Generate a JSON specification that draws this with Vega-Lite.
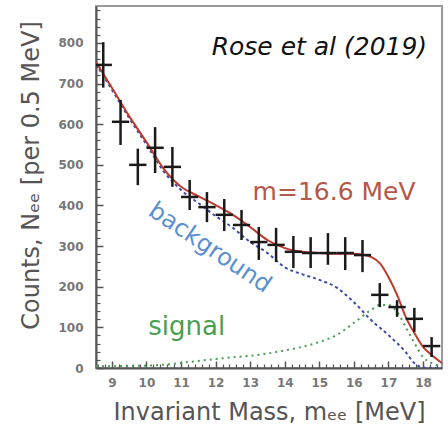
{
  "$schema": "https://vega.github.io/schema/vega-lite/v6.json",
  "width": 346,
  "height": 362,
  "autosize": "none",
  "padding": {"left": 96, "top": 6, "right": 6, "bottom": 74},
  "background": "white",
  "config": {
    "view": {"stroke": "#9a9a9a", "strokeWidth": 2},
    "axis": {
      "grid": false,
      "domainColor": "#555",
      "domainWidth": 2,
      "tickColor": "#555",
      "tickWidth": 1.5,
      "labelFont": "DejaVu Sans",
      "labelFontWeight": "bold",
      "labelFontSize": 12,
      "labelColor": "#777",
      "labelOverlap": false,
      "labelFlush": false,
      "titleFont": "DejaVu Sans",
      "titleFontWeight": "normal",
      "titleFontSize": 24,
      "titleColor": "#555"
    }
  },
  "resolve": {"axis": {"x": "independent", "y": "independent"}},
  "datasets": {
    "points": [
      {"mass": 8.75, "count": 746, "lo": 690, "hi": 802, "mlo": 8.5, "mhi": 9.0},
      {"mass": 9.25, "count": 606, "lo": 549, "hi": 660, "mlo": 9.0, "mhi": 9.5},
      {"mass": 9.75, "count": 500, "lo": 450, "hi": 540, "mlo": 9.5, "mhi": 10.0},
      {"mass": 10.25, "count": 542, "lo": 480, "hi": 593, "mlo": 10.0, "mhi": 10.5},
      {"mass": 10.75, "count": 495, "lo": 446, "hi": 544, "mlo": 10.5, "mhi": 11.0},
      {"mass": 11.25, "count": 421, "lo": 389, "hi": 463, "mlo": 11.0, "mhi": 11.5},
      {"mass": 11.75, "count": 396, "lo": 359, "hi": 433, "mlo": 11.5, "mhi": 12.0},
      {"mass": 12.25, "count": 377, "lo": 337, "hi": 416, "mlo": 12.0, "mhi": 12.5},
      {"mass": 12.75, "count": 352, "lo": 315, "hi": 389, "mlo": 12.5, "mhi": 13.0},
      {"mass": 13.25, "count": 310, "lo": 266, "hi": 347, "mlo": 13.0, "mhi": 13.5},
      {"mass": 13.75, "count": 303, "lo": 261, "hi": 345, "mlo": 13.5, "mhi": 14.0},
      {"mass": 14.25, "count": 286, "lo": 246, "hi": 325, "mlo": 14.0, "mhi": 14.5},
      {"mass": 14.75, "count": 283, "lo": 246, "hi": 322, "mlo": 14.5, "mhi": 15.0},
      {"mass": 15.25, "count": 283, "lo": 254, "hi": 332, "mlo": 15.0, "mhi": 15.5},
      {"mass": 15.75, "count": 283, "lo": 241, "hi": 322, "mlo": 15.5, "mhi": 16.0},
      {"mass": 16.25, "count": 278, "lo": 236, "hi": 315, "mlo": 16.0, "mhi": 16.5},
      {"mass": 16.75, "count": 180, "lo": 150, "hi": 209, "mlo": 16.5, "mhi": 17.0},
      {"mass": 17.25, "count": 150, "lo": 126, "hi": 167, "mlo": 17.0, "mhi": 17.5},
      {"mass": 17.75, "count": 121, "lo": 89, "hi": 148, "mlo": 17.5, "mhi": 18.0},
      {"mass": 18.25, "count": 54, "lo": 27, "hi": 76, "mlo": 18.0, "mhi": 18.5}
    ],
    "total": [
      {"mass": 8.54, "count": 753}, {"mass": 9.0, "count": 690}, {"mass": 9.5, "count": 620},
      {"mass": 10.0, "count": 556}, {"mass": 10.5, "count": 490}, {"mass": 11.0, "count": 446},
      {"mass": 11.5, "count": 423}, {"mass": 12.0, "count": 401}, {"mass": 12.5, "count": 377},
      {"mass": 13.0, "count": 347}, {"mass": 13.5, "count": 315}, {"mass": 14.0, "count": 295},
      {"mass": 14.5, "count": 286}, {"mass": 15.0, "count": 283}, {"mass": 15.5, "count": 281},
      {"mass": 16.0, "count": 281}, {"mass": 16.25, "count": 279}, {"mass": 16.5, "count": 273},
      {"mass": 16.75, "count": 258}, {"mass": 17.0, "count": 224}, {"mass": 17.25, "count": 180},
      {"mass": 17.5, "count": 126}, {"mass": 17.75, "count": 86}, {"mass": 18.0, "count": 52},
      {"mass": 18.25, "count": 32}, {"mass": 18.55, "count": 12}
    ],
    "background": [
      {"mass": 8.54, "count": 748}, {"mass": 9.0, "count": 685}, {"mass": 9.5, "count": 615},
      {"mass": 10.0, "count": 550}, {"mass": 10.5, "count": 484}, {"mass": 11.0, "count": 438},
      {"mass": 11.5, "count": 406}, {"mass": 12.0, "count": 374}, {"mass": 12.5, "count": 345},
      {"mass": 13.0, "count": 310}, {"mass": 13.5, "count": 283}, {"mass": 14.0, "count": 248},
      {"mass": 14.5, "count": 231}, {"mass": 15.0, "count": 217}, {"mass": 15.5, "count": 198},
      {"mass": 16.0, "count": 162}, {"mass": 16.5, "count": 118}, {"mass": 17.0, "count": 81},
      {"mass": 17.5, "count": 39}, {"mass": 17.75, "count": 12}, {"mass": 18.0, "count": 1},
      {"mass": 18.2, "count": 0}, {"mass": 18.55, "count": 0}
    ],
    "signal": [
      {"mass": 8.54, "count": 4}, {"mass": 9.5, "count": 5}, {"mass": 10.5, "count": 8},
      {"mass": 11.25, "count": 15}, {"mass": 12.2, "count": 24}, {"mass": 13.2, "count": 32},
      {"mass": 14.05, "count": 44}, {"mass": 14.5, "count": 52}, {"mass": 15.0, "count": 64},
      {"mass": 15.5, "count": 81}, {"mass": 16.0, "count": 111}, {"mass": 16.5, "count": 143},
      {"mass": 16.75, "count": 155}, {"mass": 17.0, "count": 155}, {"mass": 17.25, "count": 138},
      {"mass": 17.5, "count": 101}, {"mass": 17.75, "count": 62}, {"mass": 18.0, "count": 27},
      {"mass": 18.25, "count": 12}, {"mass": 18.55, "count": 3}
    ]
  },
  "layer": [
    {
      "data": {"name": "background"},
      "mark": {"type": "line", "color": "#3d4aa6", "strokeWidth": 2, "strokeDash": [3, 3], "interpolate": "monotone", "clip": true},
      "encoding": {
        "x": {
          "field": "mass", "type": "quantitative",
          "scale": {"domain": [8.54, 18.55], "nice": false, "zero": false},
          "axis": {
            "orient": "bottom",
            "title": "Invariant Mass, mₑₑ [MeV]",
            "values": [9, 10, 11, 12, 13, 14, 15, 16, 17, 18],
            "format": "d",
            "tickSize": -7,
            "labelOverlap": false,
            "labelPadding": 16,
            "titlePadding": 12
          }
        },
        "y": {
          "field": "count", "type": "quantitative",
          "scale": {"domain": [0, 891], "nice": false},
          "axis": {
            "orient": "left",
            "title": "Counts, Nₑₑ [per 0.5 MeV]",
            "values": [0, 100, 200, 300, 400, 500, 600, 700, 800],
            "tickSize": -7,
            "labelOverlap": false,
            "labelPadding": 20,
            "titlePadding": 14,
            "titleY": 169
          }
        }
      }
    },
    {
      "data": {"name": "signal"},
      "mark": {"type": "line", "color": "#4a9e50", "strokeWidth": 2, "strokeDash": [2, 4], "interpolate": "monotone", "clip": true},
      "encoding": {
        "x": {"field": "mass", "type": "quantitative",
          "axis": {
            "orient": "bottom",
            "title": null,
            "labels": false,
            "domain": false,
            "values": [8.6, 8.8, 9.2, 9.4, 9.6, 9.8, 10.2, 10.4, 10.6, 10.8, 11.2, 11.4, 11.6, 11.8, 12.2, 12.4, 12.6, 12.8, 13.2, 13.4, 13.6, 13.8, 14.2, 14.4, 14.6, 14.8, 15.2, 15.4, 15.6, 15.8, 16.2, 16.4, 16.6, 16.8, 17.2, 17.4, 17.6, 17.8, 18.2, 18.4],
            "tickSize": -4,
            "tickWidth": 1.2
          }
        },
        "y": {"field": "count", "type": "quantitative",
          "axis": {
            "orient": "left",
            "title": null,
            "labels": false,
            "domain": false,
            "values": [20, 40, 60, 80, 120, 140, 160, 180, 220, 240, 260, 280, 320, 340, 360, 380, 420, 440, 460, 480, 520, 540, 560, 580, 620, 640, 660, 680, 720, 740, 760, 780, 820, 840, 860, 880],
            "tickSize": -4,
            "tickWidth": 1.2
          }
        }
      }
    },
    {
      "data": {"name": "total"},
      "mark": {"type": "line", "color": "#c0392f", "strokeWidth": 2, "interpolate": "monotone", "clip": true},
      "encoding": {
        "x": {"field": "mass", "type": "quantitative", "axis": null},
        "y": {"field": "count", "type": "quantitative", "axis": null}
      }
    },
    {
      "data": {"name": "points"},
      "mark": {"type": "rule", "color": "#1a1a1a", "strokeWidth": 2.5, "clip": true},
      "encoding": {
        "x": {"field": "mass", "type": "quantitative", "axis": null},
        "y": {"field": "lo", "type": "quantitative", "axis": null},
        "y2": {"field": "hi"}
      }
    },
    {
      "data": {"name": "points"},
      "mark": {"type": "rule", "color": "#1a1a1a", "strokeWidth": 2.5, "clip": true},
      "encoding": {
        "x": {"field": "mlo", "type": "quantitative", "axis": null},
        "x2": {"field": "mhi"},
        "y": {"field": "count", "type": "quantitative", "axis": null}
      }
    },
    {
      "data": {"values": [{}]},
      "mark": {"type": "text", "text": "Rose et al (2019)", "font": "DejaVu Sans", "fontStyle": "italic", "fontSize": 25, "color": "#111", "align": "right", "baseline": "alphabetic"},
      "encoding": {
        "x": {"datum": 18.12, "type": "quantitative", "axis": null},
        "y": {"datum": 770, "type": "quantitative", "axis": null}
      }
    },
    {
      "data": {"values": [{}]},
      "mark": {"type": "text", "text": "m=16.6 MeV", "font": "DejaVu Sans", "fontSize": 25, "color": "#b5574a", "align": "left", "baseline": "alphabetic"},
      "encoding": {
        "x": {"datum": 13.07, "type": "quantitative", "axis": null},
        "y": {"datum": 413, "type": "quantitative", "axis": null}
      }
    },
    {
      "data": {"values": [{}]},
      "mark": {"type": "text", "text": "background", "font": "DejaVu Sans", "fontSize": 24, "color": "#5b8fd0", "align": "center", "baseline": "middle", "angle": 34},
      "encoding": {
        "x": {"datum": 11.83, "type": "quantitative", "axis": null},
        "y": {"datum": 295, "type": "quantitative", "axis": null}
      }
    },
    {
      "data": {"values": [{}]},
      "mark": {"type": "text", "text": "signal", "font": "DejaVu Sans", "fontSize": 26, "color": "#4aa050", "align": "left", "baseline": "alphabetic"},
      "encoding": {
        "x": {"datum": 10.05, "type": "quantitative", "axis": null},
        "y": {"datum": 81, "type": "quantitative", "axis": null}
      }
    }
  ]
}
